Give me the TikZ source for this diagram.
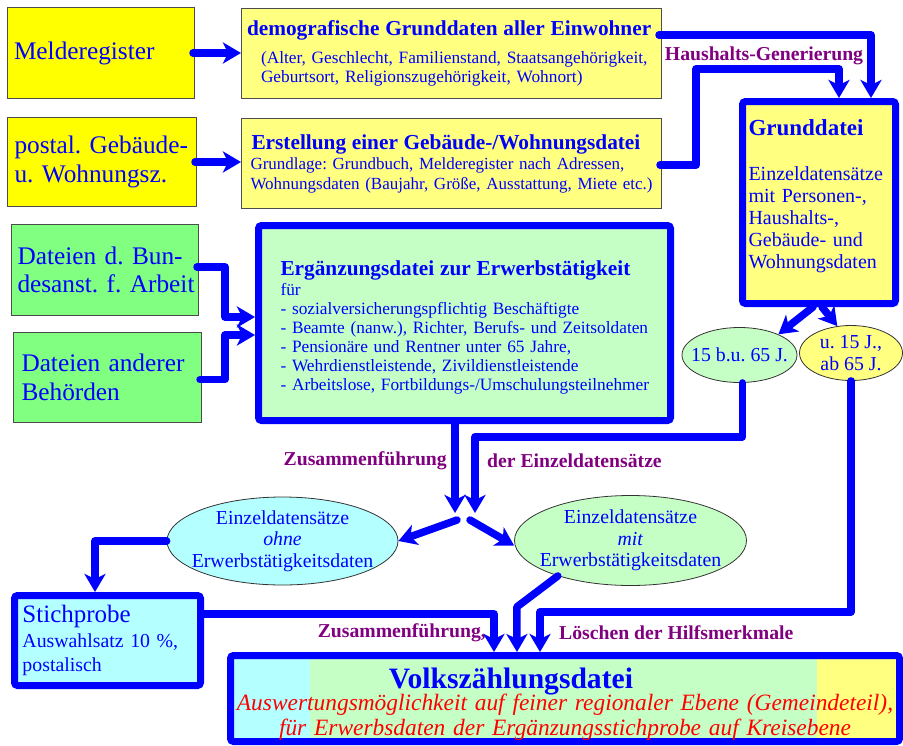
\documentclass[tikz,border=0pt]{standalone}
\usepackage{fontspec}
\setmainfont{Liberation Serif}
\usepackage{tikz}
\usetikzlibrary{arrows.meta,shapes.geometric,positioning}
\frenchspacing

\definecolor{gelb}{HTML}{FFFF00}
\definecolor{hellgelb}{HTML}{FFFF80}
\definecolor{gruen}{HTML}{80FF80}
\definecolor{hellgruen}{HTML}{C6FFC6}
\definecolor{hellblau}{HTML}{B4FFFF}
\definecolor{lila}{HTML}{800080}

\tikzset{
  quelle/.style={draw=black!70, line width=1pt, anchor=north west, inner ysep=0pt, align=left, text=blue, font=\fontsize{25.3}{28.5}\selectfont},
  info/.style={draw=black!70, line width=1pt, fill=hellgelb, anchor=north west, inner ysep=0pt, align=left, text=blue},
  datei/.style={draw=blue, line width=7pt, rounded corners=3pt, anchor=north west, inner ysep=0pt, text=blue},
  blase/.style={ellipse, draw=black!80, line width=0.8pt, inner xsep=-12pt, inner ysep=-4pt, align=center, text=blue, font=\fontsize{19.8}{21.5}\selectfont},
  fluss/.style={draw=blue, line width=7.5pt, line cap=round, line join=round, -{Stealth[length=18pt,width=21pt,inset=5pt]}},
  hinweis/.style={text=lila, inner sep=0pt, font=\bfseries\fontsize{19.7}{22}\selectfont},
}

\begin{document}
\begin{tikzpicture}[x=1pt, y=-1pt]
  \useasboundingbox (0,0) rectangle (903,745);

  % Quellen links
  \node[quelle, fill=gelb, inner xsep=6.5pt, text width=174pt, minimum height=91pt] (melde) at (7,7) {Melderegister};
  \node[quelle, fill=gelb, inner xsep=7pt, text width=175pt, minimum height=89pt] (postal) at (7,117) {\mbox{postal. Gebäude-}\\\mbox{u. Wohnungsz.}};
  \node[quelle, fill=gruen, inner xsep=6pt, text width=175pt, minimum height=91pt] (bund) at (11,224) {\mbox{Dateien d. Bun-}\\\mbox{desanst. f. Arbeit}};
  \node[quelle, fill=gruen, inner xsep=8pt, text width=172pt, minimum height=90pt] (behoerd) at (13,332) {\mbox{Dateien anderer}\\Behörden};

  % Zwischendateien
  \node[info, inner xsep=5.5pt, text width=409pt, minimum height=90pt, font=\fontsize{17.3}{18.5}\selectfont] (demo) at (241,8)
    {{\fontsize{21.3}{24}\selectfont\bfseries demografische Grunddaten aller Einwohner}\\[9.5pt]
     \hspace*{14pt}(Alter, Geschlecht, Familienstand, Staatsangehörigkeit,\\
     \hspace*{14pt}Geburtsort, Religionszugehörigkeit, Wohnort)};
  \node[info, inner xsep=9pt, text width=402pt, minimum height=90pt, font=\fontsize{17}{20}\selectfont] (erst) at (241,118)
    {{\fontsize{21.3}{24}\selectfont\bfseries \hspace*{1pt}Erstellung einer Gebäude-/Wohnungsdatei}\\
     Grundlage: Grundbuch, Melderegister nach Adressen,\\
     \mbox{Wohnungsdaten (Baujahr, Größe, Ausstattung, Miete etc.)}};

  % Grunddatei
  \node[datei, fill=hellgelb, inner xsep=6pt, text width=141pt, minimum height=202pt, align=left, font=\fontsize{20}{22}\selectfont] (grund) at (739,98)
    {{\fontsize{23}{26}\selectfont\bfseries Grunddatei}\\[23pt]
     Einzeldatensätze\\mit Personen-,\\Haushalts-,\\Gebäude- und\\Wohnungsdaten\rule[-17pt]{0pt}{1pt}};

  % Ergaenzungsdatei
  \node[datei, fill=hellgruen, inner xsep=22pt, text width=368pt, minimum height=195pt, align=left, font=\fontsize{17.3}{19}\selectfont] (erg) at (255,222)
    {{\fontsize{21.3}{24}\selectfont\bfseries\rule{0pt}{24pt}Ergänzungsdatei zur Erwerbstätigkeit}\\[1pt]
     für\\
     - sozialversicherungspflichtig Beschäftigte\\
     \mbox{- Beamte (nanw.), Richter, Berufs- und Zeitsoldaten}\\
     - Pensionäre und Rentner unter 65 Jahre,\\
     - Wehrdienstleistende, Zivildienstleistende\\
     \mbox{- Arbeitslose, Fortbildungs-/Umschulungsteilnehmer}};

  % Altersgruppen und Teildateien
  \node[blase, fill=hellgruen, minimum width=115pt, minimum height=55pt] (e1) at (739.5,355) {15 b.u. 65 J.};
  \node[blase, fill=hellgelb, minimum width=103pt, minimum height=55pt] (e2) at (851,353) {u. 15 J.,\\ab 65 J.};
  \node[blase, fill=hellblau, minimum width=231pt, minimum height=88pt] (ohne) at (282.5,541) {Einzeldatensätze\\\textit{ohne}\\Erwerbstätigkeitsdaten};
  \node[blase, fill=hellgruen, minimum width=232pt, minimum height=90pt] (mit) at (630.5,540.5) {Einzeldatensätze\\\textit{mit}\\Erwerbstätigkeitsdaten};

  % Stichprobe
  \node[datei, fill=hellblau, inner xsep=8pt, text width=170pt, minimum height=90pt, align=left, font=\fontsize{19.8}{24}\selectfont] (stich) at (11,592)
    {{\fontsize{25}{28}\selectfont Stichprobe}\\[1pt]
     Auswahlsatz 10 \%,\\postalisch};

  % Volkszaehlungsdatei
  \fill[hellblau] (230,655) rectangle (310,742);
  \fill[hellgruen] (310,655) rectangle (817,742);
  \fill[hellgelb] (817,655) rectangle (900,742);
  \node[datei, inner xsep=0pt, text width=669pt, minimum height=86pt, align=center, text=red, font=\fontsize{23.4}{25}\selectfont\itshape] (vz) at (227,652)
    {{\fontsize{29.6}{32}\selectfont\bfseries\upshape\color{blue}\rule{0pt}{31pt}Volkszählungsdatei\hspace*{108pt}}\\[-3pt]
     Auswertungsmöglichkeit auf feiner regionaler Ebene (Gemeindeteil),\\
     für Erwerbsdaten der Ergänzungsstichprobe auf Kreisebene};

  % Beschriftungen
  \node[hinweis] (lbhaus) at (764,56) {Haushalts-Generierung};
  \node[hinweis, anchor=east] (lbzus) at (447,461) {Zusammenführung};
  \node[hinweis, anchor=west] (lbder) at (487,461) {der Einzeldatensätze};
  \node[hinweis, anchor=east] (lbzusb) at (486,633) {Zusammenführung,};
  \node[hinweis, anchor=west] (lbloesch) at (559,633) {Löschen der Hilfsmerkmale};

  % Verbindungen
  \coordinate (sammelL) at (455,513);
  \coordinate (sammelR) at (475,513);
  \coordinate (teilL) at (457,520);
  \coordinate (teilR) at (470,520);

  \draw[fluss] ([xshift=-2pt]melde.east) -- (melde.east -| demo.west);
  \draw[fluss] ([xshift=-2pt]postal.east) -- (postal.east -| erst.west);
  \draw[fluss] ([xshift=-3pt,yshift=-27pt]demo.north east) -| ([xshift=-28pt]grund.north east);
  \draw[fluss] ([xshift=-2pt,yshift=-47pt]erst.north east) -- ++(36,0) -- ++(0,-96) -| ([xshift=-60pt]grund.north east);
  \draw[fluss] ([xshift=-2pt,yshift=3pt]bund.east) -- ++(28,0) |- ([yshift=6pt]erg.west);
  \draw[fluss] ([xshift=-2pt,yshift=-2pt]behoerd.east) -- ++(25,0) |- ([yshift=-12pt]erg.west);
  \draw[fluss] ([xshift=-6pt]grund.south) -- (e1.28);
  \draw[fluss] ([xshift=3pt]grund.south) -- (e2.117);
  \draw[fluss] ([xshift=3pt]e1.south) -- ++(0,54) -| (sammelR);
  \draw[fluss] ([xshift=-9.5pt]erg.south) -- (sammelL);
  \draw[fluss] (teilL) -- (ohne.east);
  \draw[fluss] (teilR) -- ([yshift=-5pt]mit.west);
  \draw[fluss] (ohne.west) -| ([xshift=-12.5pt]stich.north);
  \draw[fluss] ([yshift=26.5pt]stich.east) -| ([xshift=-71pt]vz.north);
  \draw[fluss] (mit.206) -- ++(-41,31) -- ([xshift=-48pt]vz.north);
  \draw[fluss] (e2.south) -- ++(0,231) -| ([xshift=-25pt]vz.north);
\end{tikzpicture}
\end{document}
